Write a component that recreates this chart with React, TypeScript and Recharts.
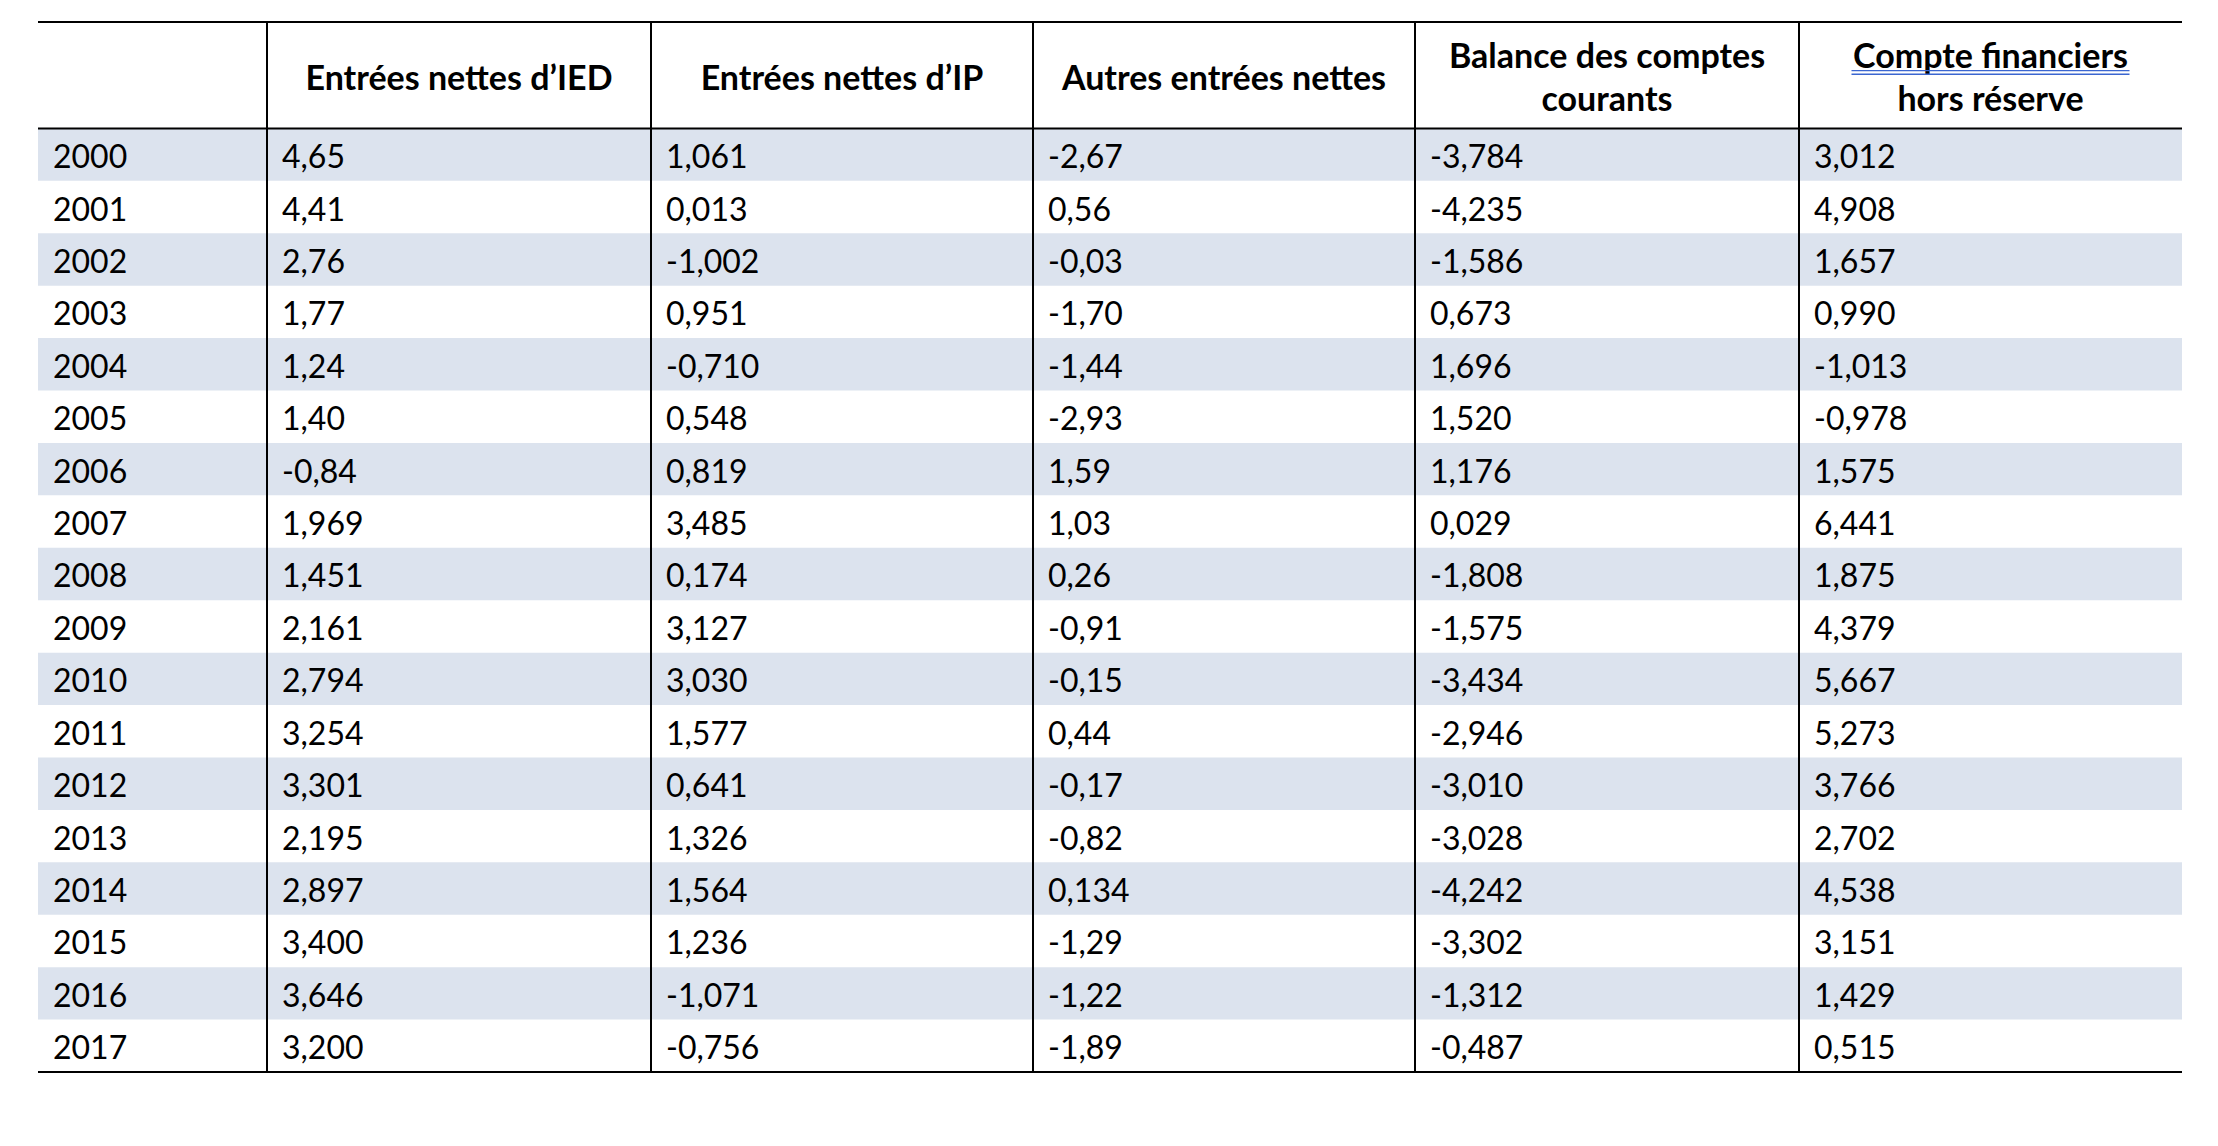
import { ScatterChart, Scatter, XAxis, YAxis, ReferenceArea, ReferenceLine } from 'recharts';

const YEARS = ['2000', '2001', '2002', '2003', '2004', '2005', '2006', '2007', '2008', '2009', '2010', '2011', '2012', '2013', '2014', '2015', '2016', '2017'];
const IED = ['4,65', '4,41', '2,76', '1,77', '1,24', '1,40', '-0,84', '1,969', '1,451', '2,161', '2,794', '3,254', '3,301', '2,195', '2,897', '3,400', '3,646', '3,200'];
const IP = ['1,061', '0,013', '-1,002', '0,951', '-0,710', '0,548', '0,819', '3,485', '0,174', '3,127', '3,030', '1,577', '0,641', '1,326', '1,564', '1,236', '-1,071', '-0,756'];
const AUTRES = ['-2,67', '0,56', '-0,03', '-1,70', '-1,44', '-2,93', '1,59', '1,03', '0,26', '-0,91', '-0,15', '0,44', '-0,17', '-0,82', '0,134', '-1,29', '-1,22', '-1,89'];
const BALANCE = ['-3,784', '-4,235', '-1,586', '0,673', '1,696', '1,520', '1,176', '0,029', '-1,808', '-1,575', '-3,434', '-2,946', '-3,010', '-3,028', '-4,242', '-3,302', '-1,312', '-0,487'];
const COMPTE = ['3,012', '4,908', '1,657', '0,990', '-1,013', '-0,978', '1,575', '6,441', '1,875', '4,379', '5,667', '5,273', '3,766', '2,702', '4,538', '3,151', '1,429', '0,515'];
const HEADERS = [
  [],
  ['Entrées nettes d’IED'],
  ['Entrées nettes d’IP'],
  ['Autres entrées nettes'],
  ['Balance des comptes', 'courants'],
  ['Compte financiers', 'hors réserve'],
];

// layout
const COL_WIDTHS = [229, 384, 382, 382, 384, 383];
const COL_START = COL_WIDTHS.map((_, i) => COL_WIDTHS.slice(0, i).reduce((a, b) => a + b, 0));
const TOTAL = COL_WIDTHS.reduce((a, b) => a + b, 0);
const HEADER_ROWS = 2.03;
const FONT = 'Lato, "Noto Sans", sans-serif';
const STRIPE = '#DCE3EE';

const COLUMNS = [YEARS, IED, IP, AUTRES, BALANCE, COMPTE];

const headerData = HEADERS.map((lines, i) => ({
  x: COL_START[i] + COL_WIDTHS[i] / 2,
  y: -HEADER_ROWS / 2,
  lines,
  spell: i === 5,
}));

const HeaderCell = (props: any) => {
  const { cx, cy, payload } = props;
  const lines: string[] = payload.lines;
  const lh = 42.5;
  const y0 = cy - ((lines.length - 1) * lh) / 2 + 1;
  return (
    <g>
      {lines.map((l, k) => (
        <text
          key={k}
          x={cx}
          y={y0 + k * lh}
          textAnchor="middle"
          dominantBaseline="central"
          fontFamily={FONT}
          fontWeight={700}
          fontSize={34}
          fill="#000"
        >
          {l}
        </text>
      ))}
      {payload.spell && (
        <g stroke="#3B66D0" strokeWidth={1.4}>
          <line x1={cx - 139} x2={cx + 139} y1={y0 + 15.7} y2={y0 + 15.7} />
          <line x1={cx - 139} x2={cx + 139} y1={y0 + 19.3} y2={y0 + 19.3} />
        </g>
      )}
    </g>
  );
};

const BodyCell = (props: any) => {
  const { cx, cy, payload } = props;
  return (
    <text
      x={cx + 15}
      y={cy + 1}
      dominantBaseline="central"
      fontFamily={FONT}
      fontSize={32}
      fill="#000"
    >
      {payload.label}
    </text>
  );
};

export default function App() {
  return (
    <div style={{ position: 'absolute', left: 0, top: 0, background: '#fff' }}>
      <ScatterChart width={2218} height={1146} margin={{ top: 22, right: 36, bottom: 74, left: 38 }}>
        <XAxis type="number" dataKey="x" domain={[0, TOTAL]} hide />
        <YAxis type="number" dataKey="y" domain={[-HEADER_ROWS, YEARS.length]} reversed hide />
        {YEARS.map((y, i) =>
          i % 2 === 0 ? (
            <ReferenceArea
              key={y}
              x1={0}
              x2={TOTAL}
              y1={i}
              y2={i + 1}
              fill={STRIPE}
              fillOpacity={1}
              stroke="none"
            />
          ) : null
        )}
        {COL_START.slice(1).map(x => (
          <ReferenceLine key={x} x={x} stroke="#000" strokeWidth={2} />
        ))}
        <ReferenceLine y={-HEADER_ROWS} stroke="#000" strokeWidth={2} />
        <ReferenceLine y={0} stroke="#000" strokeWidth={2} />
        <ReferenceLine y={YEARS.length} stroke="#000" strokeWidth={2} />
        <Scatter data={headerData} shape={HeaderCell} isAnimationActive={false} />
        {COLUMNS.map((col, c) => (
          <Scatter
            key={c}
            data={col.map((label, i) => ({ x: COL_START[c], y: i + 0.5, label }))}
            shape={BodyCell}
            isAnimationActive={false}
          />
        ))}
      </ScatterChart>
    </div>
  );
}
